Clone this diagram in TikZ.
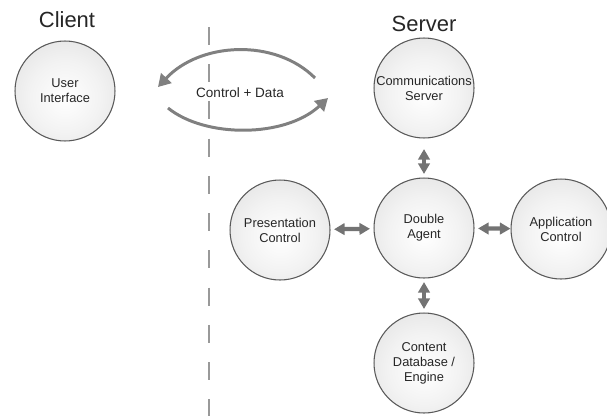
\documentclass[tikz,border=0pt]{standalone}
\usepackage{fontspec}
\setmainfont{Liberation Sans}
\usetikzlibrary{arrows.meta}
\pgfdeclareradialshading{ballshade}{\pgfpoint{0bp}{-4bp}}{color(0bp)=(white); color(18bp)=(white!95!black); color(36bp)=(black!12); color(50bp)=(black!24); color(72bp)=(black!24)}
\tikzset{
  ball/.style={circle, minimum size=2cm, inner sep=0pt, draw=black!65, line width=0.6pt,
    shading=ballshade, align=center, text=black!85, font=\fontsize{7.3}{8.6}\selectfont},
  link/.style={{Triangle[length=6pt,width=6.5pt]}-{Triangle[length=6pt,width=6.5pt]}, line width=2.4pt,
    draw=black!55, shorten <=2pt, shorten >=2pt},
  flow/.style={-{Triangle[length=7pt,width=8pt]}, line width=1.7pt, draw=black!50},
  heading/.style={text=black!85, font=\fontsize{12.5}{14}\selectfont}
}
\begin{document}
\begin{tikzpicture}[x=0.02cm, y=-0.02cm]
    \useasboundingbox (0,0) rectangle (607,416);
    % divider
    \coordinate (divtop) at (209,27);
    \coordinate (divbot) at (209,416);
    \draw [black!40, line width=1.1pt, dash pattern=on 10.2pt off 11pt] (divtop) -- (divbot);
    \node (client) at (67,20) [heading] {Client};
    \node (server) at (424,24) [heading] {Server};
    % circles
    \node (ui) at (65,91) [ball] {User\\Interface};
    \node (comm) at (424,88) [ball] {Communications\\Server};
    \node (agent) at (424,228) [ball] {Double\\Agent};
    \node (pres) at (280,230) [ball] {Presentation\\Control};
    \node (app) at (561,229) [ball] {Application\\Control};
    \node (content) at (424,363) [ball] {Content\\Database /\\Engine};
    % links
    \draw [link, shorten <=6pt] (comm) -- (agent);
    \draw [link] (pres) -- (agent);
    \draw [link, shorten >=0pt] (agent) -- (app);
    \draw [link] (agent) -- (content);
    % client/server traffic
    \coordinate (sendfrom) at (315,78);
    \coordinate (sendto) at (158,87);
    \coordinate (backfrom) at (168,108);
    \coordinate (backto) at (328,98);
    \draw [flow] (sendfrom) .. controls (275,38) and (200,42) .. (sendto);
    \draw [flow] (backfrom) .. controls (205,138) and (285,138) .. (backto);
    \node (traffic) at (240,93) [text=black!85, font=\fontsize{7.7}{9}\selectfont] {Control + Data};
\end{tikzpicture}
\end{document}
